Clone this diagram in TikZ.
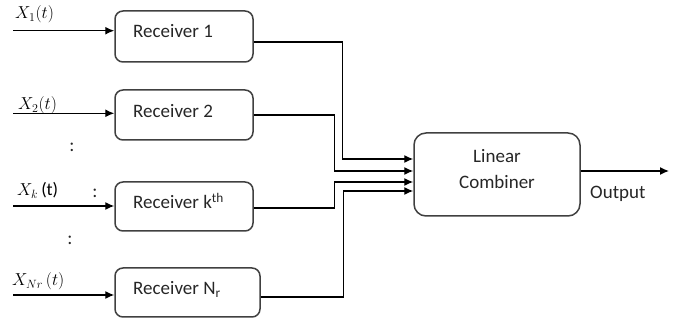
\documentclass[tikz,border=0pt]{standalone}
\usepackage{fontspec}
\setmainfont{Carlito}
\usetikzlibrary{arrows.meta,calc}
\begin{document}
\begin{tikzpicture}[x=1pt,y=-1pt,
  box/.style={draw=black!75,line width=1.5pt,rounded corners=8pt,inner sep=0pt},
  txt/.style={font=\fontsize{19}{22}\selectfont,inner sep=0pt,text=black!85},
  sig/.style={font=\fontsize{18}{20}\selectfont,inner sep=0pt,anchor=base west},
  arr/.style={line width=1.3pt,-{Latex[length=9pt,width=8pt]}},
  wire/.style={line width=1.3pt}]
\useasboundingbox (0,0) rectangle (673,320);
% receiver boxes
\node[box,minimum width=138pt,minimum height=51pt] (r1) at (184,36.5) {};
\node[box,minimum width=138pt,minimum height=50pt] (r2) at (184,115) {};
\node[box,minimum width=138pt,minimum height=49pt] (rk) at (184,206.5) {};
\node[box,minimum width=145pt,minimum height=49pt] (rN) at (187.5,292.5) {};
\node[box,rounded corners=12pt,minimum width=166pt,minimum height=83pt] (lc) at (497,174.5) {};
% box texts
\node[txt,anchor=base west] (t1) at (133,38) {Receiver 1};
\node[txt,anchor=base west] (t2) at (133,117.5) {Receiver 2};
\node[txt,anchor=base west] (tk) at (133,208.5) {Receiver k\textsuperscript{th}};
\node[txt,anchor=base west] (tN) at (133,295) {Receiver N\textsubscript{r}};
\node[txt,anchor=base] (tl1) at (497,162.5) {Linear};
\node[txt,anchor=base] (tl2) at (497,189) {Combiner};
\node[txt,anchor=base west] (tout) at (590,199) {Output};
% input labels
\node[sig] (x1) at (15,18.5) {$X_1(t)$};
\node[sig] (x2) at (18,110) {$X_2(t)$};
\node[sig] (xk) at (17,195.5) {$X_k$\,(t)};
\node[sig] (xN) at (12,286) {$X_{Nr}\,(t)$};
% dots
\node[txt,anchor=base] (d1) at (72,152) {:};
\node[txt,anchor=base] (d2) at (95,198) {:};
\node[txt,anchor=base] (d3) at (70,245) {:};
% inputs
\coordinate (i1) at (13,30.7);
\coordinate (i2) at (13,113.3);
\coordinate (ik) at (13,206);
\coordinate (iN) at (13,295);
\draw[arr] (i1) -- (i1 -| r1.west);
\draw[arr] (i2) -- (i2 -| r2.west);
\draw[arr] (ik) -- (ik -| rk.west);
\draw[arr] (iN) -- (iN -| rN.west);
% to combiner
\draw[arr] ([yshift=-5.5pt]r1.east) -- ++(89,0) |- ([yshift=15.5pt]lc.west);
\draw[arr] (r2.east) -- ++(81,0) |- ([yshift=3.5pt]lc.west);
\draw[arr] ([yshift=-1.5pt]rk.east) -- ++(81,0) |- ([yshift=-7.5pt]lc.west);
\draw[arr] ([yshift=-4.5pt]rN.east) -- ++(83,0) |- ([yshift=-16.5pt]lc.west);
% output
\coordinate (o) at (669,171);
\draw[arr] ([yshift=3.5pt]lc.east) -- (o);
\end{tikzpicture}
\end{document}
